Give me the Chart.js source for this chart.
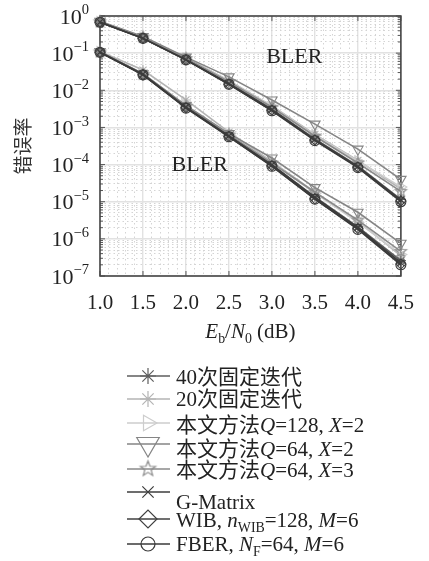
<!DOCTYPE html>
<html>
<head>
<meta charset="utf-8">
<script src="https://cdn.jsdelivr.net/npm/chart.js@4/dist/chart.umd.min.js"></script>
<style>
  html, body { margin: 0; padding: 0; background: #fff; }
  #wrap { width: 429px; height: 561px; }
</style>
</head>
<body>
<div id="wrap"><canvas id="myChart" width="429" height="561"></canvas></div>
<script>
var snr = [1.0, 1.5, 2.0, 2.5, 3.0, 3.5, 4.0, 4.5];
var xTickLabels = ["1.0", "1.5", "2.0", "2.5", "3.0", "3.5", "4.0", "4.5"];
var yTickExp = [0, -1, -2, -3, -4, -5, -6, -7];

// upper group of curves
var iter40Up = [0.69, 0.26, 0.070, 0.016, 0.0031, 4.9e-4, 9.2e-5, 1.15e-5];
var iter20Up = [0.70, 0.27, 0.075, 0.018, 0.0038, 6.5e-4, 1.3e-4, 2.2e-5];
var q128x2Up = [0.70, 0.27, 0.074, 0.018, 0.0037, 6.2e-4, 1.25e-4, 2.5e-5];
var q64x2Up  = [0.72, 0.28, 0.078, 0.023, 0.0055, 1.23e-3, 2.6e-4, 4.0e-5];
var q64x3Up  = [0.70, 0.27, 0.072, 0.017, 0.0035, 5.8e-4, 1.1e-4, 1.9e-5];
var gmatUp   = [0.68, 0.25, 0.067, 0.015, 0.0030, 4.7e-4, 8.8e-5, 1.1e-5];
var wibUp    = [0.68, 0.25, 0.066, 0.0145, 0.0029, 4.6e-4, 8.5e-5, 1.05e-5];
var fberUp   = [0.68, 0.25, 0.066, 0.0145, 0.0028, 4.4e-4, 8.3e-5, 1.0e-5];

// lower group of curves
var iter40Lo = [0.107, 0.027, 0.0036, 6.0e-4, 1.0e-4, 1.35e-5, 2.1e-6, 2.6e-7];
var iter20Lo = [0.110, 0.035, 0.0055, 7.5e-4, 1.2e-4, 1.8e-5, 3.0e-6, 3.5e-7];
var q128x2Lo = [0.110, 0.028, 0.0038, 6.6e-4, 1.15e-4, 1.7e-5, 2.8e-6, 3.8e-7];
var q64x2Lo  = [0.110, 0.028, 0.0039, 6.8e-4, 1.5e-4, 2.4e-5, 5.2e-6, 7.6e-7];
var q64x3Lo  = [0.108, 0.027, 0.0037, 6.3e-4, 1.1e-4, 1.8e-5, 3.2e-6, 4.6e-7];
var gmatLo   = [0.106, 0.027, 0.0035, 5.9e-4, 9.8e-5, 1.3e-5, 2.0e-6, 2.3e-7];
var wibLo    = [0.105, 0.026, 0.0034, 5.7e-4, 9.3e-5, 1.2e-5, 1.9e-6, 2.1e-7];
var fberLo   = [0.105, 0.026, 0.0033, 5.6e-4, 9.0e-5, 1.17e-5, 1.8e-6, 2.0e-7];

// legend texts (it = italic, sub = subscript)
var nameIter40 = [{t: "40次固定迭代"}];
var nameIter20 = [{t: "20次固定迭代"}];
var nameQ128X2 = [{t: "本文方法"}, {t: "Q", it: 1}, {t: "=128, "}, {t: "X", it: 1}, {t: "=2"}];
var nameQ64X2  = [{t: "本文方法"}, {t: "Q", it: 1}, {t: "=64, "}, {t: "X", it: 1}, {t: "=2"}];
var nameQ64X3  = [{t: "本文方法"}, {t: "Q", it: 1}, {t: "=64, "}, {t: "X", it: 1}, {t: "=3"}];
var nameGmat   = [{t: "G-Matrix"}];
var nameWib    = [{t: "WIB, "}, {t: "n", it: 1}, {t: "WIB", sub: 1}, {t: "=128, "}, {t: "M", it: 1}, {t: "=6"}];
var nameFber   = [{t: "FBER, "}, {t: "N", it: 1}, {t: "F", sub: 1}, {t: "=64, "}, {t: "M", it: 1}, {t: "=6"}];

var xTitle = [{t: "E", it: 1}, {t: "b", sub: 1}, {t: "/"}, {t: "N", it: 1}, {t: "0", sub: 1}, {t: " (dB)"}];
var yTitle = "错误率";
var notes = [{text: "BLER", x: 3.26, y: 0.089}, {text: "BLER", x: 2.16, y: 1.1e-4}];

var FONT = "'Liberation Serif', 'Noto Sans CJK SC', serif";

function starImage(r, color, lw) {
    var c = document.createElement("canvas");
    var s = Math.ceil(2 * r + 2 * lw + 2);
    c.width = s;
    c.height = s;
    var g = c.getContext("2d");
    g.strokeStyle = color;
    g.lineWidth = lw;
    g.beginPath();
    for (var k = 0; k < 10; k++) {
        var a = -Math.PI / 2 + k * Math.PI / 5;
        var rr = k % 2 ? r * 0.42 : r;
        var px = s / 2 + rr * Math.cos(a), py = s / 2 + rr * Math.sin(a);
        if (k) g.lineTo(px, py); else g.moveTo(px, py);
    }
    g.closePath();
    g.stroke();
    return c;
}

var series = [
    {name: nameIter40, up: iter40Up, lo: iter40Lo, color: "#5e5e5e", style: "star", rot: 0, r: 5, lr: 8, ord: 4},
    {name: nameIter20, up: iter20Up, lo: iter20Lo, color: "#b4b4b4", style: "star", rot: 0, r: 5, lr: 8, ord: 7},
    {name: nameQ128X2, up: q128x2Up, lo: q128x2Lo, color: "#cdcdcd", style: "triangle", rot: 90, r: 6, lr: 9, ord: 6},
    {name: nameQ64X2, up: q64x2Up, lo: q64x2Lo, color: "#858585", style: "triangle", rot: 180, r: 6, lr: 13, ord: 5},
    {name: nameQ64X3, up: q64x3Up, lo: q64x3Lo, color: "#8a8a8a", style: starImage(6, "#8a8a8a", 1.1), rot: 0, r: 6, lr: 8, ord: 3,
        legendImg: starImage(8, "#8a8a8a", 1.2)},
    {name: nameGmat, up: gmatUp, lo: gmatLo, color: "#3c3c3c", style: "crossRot", rot: 0, r: 5, lr: 8, ord: 2},
    {name: nameWib, up: wibUp, lo: wibLo, color: "#404040", style: "rectRot", rot: 0, r: 5, lr: 9, ord: 1},
    {name: nameFber, up: fberUp, lo: fberLo, color: "#3a3a3a", style: "circle", rot: 0, r: 5, lr: 7, ord: 0}
];

// legend rows: line y and text y
var legendLineY = [376, 399, 423, 444, 469, 492, 519, 544];
var legendTextY = [377, 399, 425, 449, 470, 502, 520, 544];

var datasets = [];
series.forEach(function (s) {
    [s.up, s.lo].forEach(function (vals) {
        datasets.push({
            data: vals.map(function (v, i) { return {x: snr[i], y: v}; }),
            borderColor: s.color,
            borderWidth: 1.6,
            pointStyle: s.style,
            pointRotation: s.rot,
            pointRadius: s.r,
            pointBorderWidth: 1.1,
            pointBorderColor: s.color,
            pointBackgroundColor: "rgba(0,0,0,0)",
            tension: 0,
            fill: false,
            clip: false,
            order: s.ord
        });
    });
});

function isDecade(v) {
    var l = Math.log10(v);
    return Math.abs(l - Math.round(l)) < 1e-6;
}
function isHalf(v) {
    return Math.abs(v * 2 - Math.round(v * 2)) < 1e-6;
}

function drawRich(ctx, parts, x, y, size) {
    parts.forEach(function (p) {
        var s = (p.sub || p.sup) ? size * 0.66 : size;
        ctx.font = (p.it ? "italic " : "") + s + "px " + FONT;
        var dy = p.sub ? size * 0.22 : (p.sup ? -size * 0.42 : 0);
        ctx.fillText(p.t, x, y + dy);
        x += ctx.measureText(p.t).width;
    });
    return x;
}
function richWidth(ctx, parts, size) {
    var w = 0;
    parts.forEach(function (p) {
        var s = (p.sub || p.sup) ? size * 0.66 : size;
        ctx.font = (p.it ? "italic " : "") + s + "px " + FONT;
        w += ctx.measureText(p.t).width;
    });
    return w;
}

var framePlugin = {
    id: "frame",
    beforeDatasetsDraw: function (chart) {
        var a = chart.chartArea, ctx = chart.ctx, xs = chart.scales.x, ys = chart.scales.y;
        ctx.save();
        ctx.strokeStyle = "#555";
        ctx.lineWidth = 1;
        ctx.beginPath();
        ys.ticks.forEach(function (t) {
            var py = ys.getPixelForValue(t.value);
            var L = isDecade(t.value) ? 5 : 3;
            ctx.moveTo(a.left, py); ctx.lineTo(a.left + L, py);
            ctx.moveTo(a.right, py); ctx.lineTo(a.right - L, py);
        });
        xs.ticks.forEach(function (t) {
            if (!isHalf(t.value)) return;
            var px = xs.getPixelForValue(t.value);
            ctx.moveTo(px, a.bottom); ctx.lineTo(px, a.bottom - 5);
            ctx.moveTo(px, a.top); ctx.lineTo(px, a.top + 5);
        });
        ctx.stroke();
        ctx.lineWidth = 1.6;
        ctx.strokeStyle = "#474747";
        ctx.strokeRect(a.left, a.top, a.right - a.left, a.bottom - a.top);
        ctx.restore();
    }
};

var textPlugin = {
    id: "texts",
    afterDraw: function (chart) {
        var a = chart.chartArea, ctx = chart.ctx, xs = chart.scales.x, ys = chart.scales.y;
        ctx.save();
        ctx.fillStyle = "#222";
        ctx.textBaseline = "alphabetic";
        ctx.textAlign = "left";
        // y tick labels 10^k
        yTickExp.forEach(function (e) {
            var parts = [{t: "10"}, {t: e === 0 ? "0" : "\u2212" + (-e), sup: 1}];
            var w = richWidth(ctx, parts, 22);
            var py = ys.getPixelForValue(Math.pow(10, e));
            drawRich(ctx, parts, a.left - 11 - w, py + 7.5, 22);
        });
        // x title
        var wt = richWidth(ctx, xTitle, 21);
        drawRich(ctx, xTitle, (a.left + a.right) / 2 - wt / 2, 338, 21);
        // BLER notes
        notes.forEach(function (n) {
            ctx.font = "22px " + FONT;
            var w = ctx.measureText(n.text).width;
            drawRich(ctx, [{t: n.text}], xs.getPixelForValue(n.x) - w / 2, ys.getPixelForValue(n.y) + 7.5, 22);
        });
        // legend
        var drawPoint = Chart.helpers && Chart.helpers.drawPoint;
        series.forEach(function (s, i) {
            var ly = legendLineY[i];
            ctx.strokeStyle = s.color;
            ctx.lineWidth = 1.6;
            ctx.beginPath();
            ctx.moveTo(127, ly);
            ctx.lineTo(170, ly);
            ctx.stroke();
            if (s.legendImg) {
                ctx.drawImage(s.legendImg, 148 - s.legendImg.width / 2, ly - s.legendImg.height / 2);
            } else if (drawPoint) {
                ctx.fillStyle = "rgba(0,0,0,0)";
                ctx.lineWidth = 1.2;
                drawPoint(ctx, {pointStyle: s.style, rotation: s.rot, radius: s.lr, borderWidth: 1.2}, 148, ly);
            }
            ctx.fillStyle = "#222";
            drawRich(ctx, s.name, 176, legendTextY[i] + 7, 21);
        });
        ctx.restore();
    }
};

new Chart(document.getElementById("myChart"), {
    type: "line",
    data: {datasets: datasets},
    options: {
        responsive: false,
        animation: false,
        layout: {padding: {left: 0, right: 19, top: 16, bottom: 225}},
        plugins: {legend: {display: false}, tooltip: {enabled: false}},
        scales: {
            x: {
                type: "linear",
                min: 1,
                max: 4.5,
                afterBuildTicks: function (scale) {
                    var t = [];
                    for (var k = 10; k <= 45; k++) t.push({value: k / 10});
                    scale.ticks = t;
                },
                afterFit: function (scale) { scale.height = 60; },
                ticks: {
                    autoSkip: false,
                    maxRotation: 0,
                    padding: 15,
                    color: "#222",
                    font: {family: FONT, size: 21},
                    callback: function (v) {
                        return isHalf(v) ? xTickLabels[Math.round((v - 1) * 2)] : "";
                    }
                },
                grid: {
                    drawTicks: false,
                    color: function (c) { return c.tick && isHalf(c.tick.value) ? "#e2e2e2" : "#d4d4d4"; },
                    lineWidth: function (c) { return c.tick && isHalf(c.tick.value) ? 1.4 : 1; }
                },
                border: {
                    display: false,
                    dash: function (c) { return c.tick && !isHalf(c.tick.value) ? [1.5, 3] : []; }
                }
            },
            y: {
                type: "logarithmic",
                min: 1e-7,
                max: 1,
                afterBuildTicks: function (scale) {
                    var t = [];
                    for (var e = -7; e < 0; e++) {
                        for (var m = 1; m <= 9; m++) t.push({value: m * Math.pow(10, e)});
                    }
                    t.push({value: 1});
                    scale.ticks = t;
                },
                afterFit: function (scale) { scale.width = 100; },
                ticks: {display: false, autoSkip: false},
                title: {
                    display: true,
                    text: yTitle,
                    color: "#333",
                    font: {family: "'Noto Sans CJK SC'", size: 19},
                    padding: {top: 11, bottom: 0}
                },
                grid: {
                    drawTicks: false,
                    color: function (c) { return c.tick && isDecade(c.tick.value) ? "#e2e2e2" : "#d4d4d4"; },
                    lineWidth: function (c) { return c.tick && isDecade(c.tick.value) ? 1.4 : 1; }
                },
                border: {
                    display: false,
                    dash: function (c) { return c.tick && !isDecade(c.tick.value) ? [1.5, 3] : []; }
                }
            }
        }
    },
    plugins: [framePlugin, textPlugin]
});
</script>
</body>
</html>
